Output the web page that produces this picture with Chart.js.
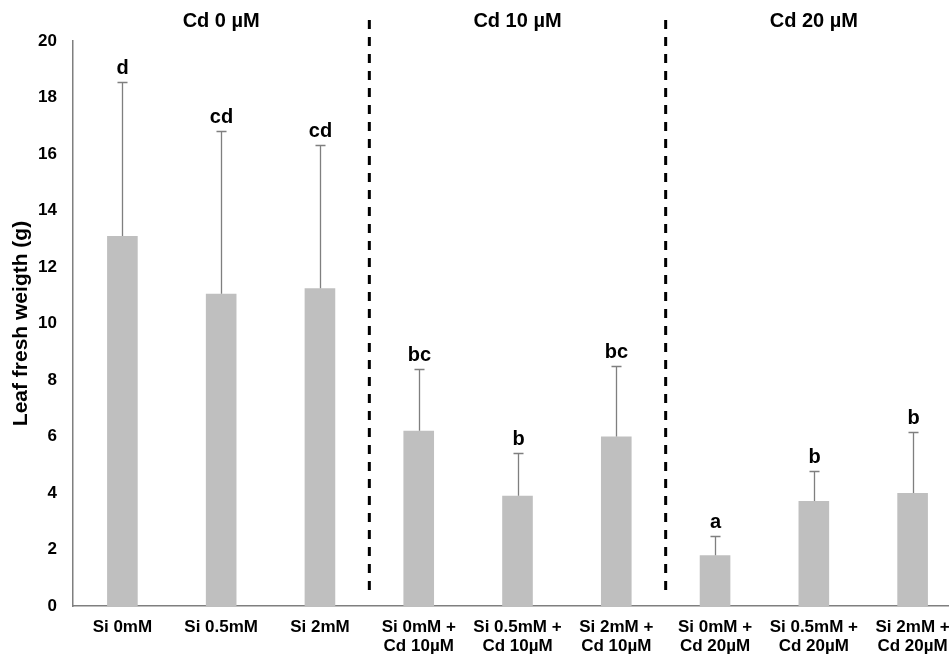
<!DOCTYPE html>
<html>
<head>
<meta charset="utf-8">
<script src="https://cdn.jsdelivr.net/npm/chart.js@4"></script>
<style>
    html, body { margin: 0; padding: 0; background: #fff; overflow: hidden; }
    #wrap { width: 962px; height: 657px; }
</style>
</head>
<body>
<div id="wrap"><canvas id="chart" width="962" height="657"></canvas></div>
<script>
    'use strict';

    var labels = [
        'Si 0mM', 'Si 0.5mM', 'Si 2mM',
        ['Si 0mM +', 'Cd 10µM'], ['Si 0.5mM +', 'Cd 10µM'], ['Si 2mM +', 'Cd 10µM'],
        ['Si 0mM +', 'Cd 20µM'], ['Si 0.5mM +', 'Cd 20µM'], ['Si 2mM +', 'Cd 20µM']
    ];
    var means = [13.1, 11.05, 11.25, 6.2, 3.9, 6.0, 1.8, 3.72, 4.0];
    var errors = [5.45, 5.75, 5.07, 2.2, 1.5, 2.5, 0.67, 1.05, 2.17];
    var letters = ['d', 'cd', 'cd', 'bc', 'b', 'bc', 'a', 'b', 'b'];
    var groupTitles = ['Cd 0 µM', 'Cd 10 µM', 'Cd 20 µM'];
    var groupSize = 3;

    var extras = {
        id: 'extras',
        afterDatasetsDraw: function(chart) {
            var ctx = chart.ctx;
            var x = chart.scales.x;
            var y = chart.scales.y;
            var area = chart.chartArea;

            ctx.save();

            // error bars (upper only) + letters
            means.forEach(function(m, i) {
                var cx = Math.round(x.getPixelForValue(i)) + 0.5;
                var yTop = y.getPixelForValue(m);
                var yErr = Math.round(y.getPixelForValue(m + errors[i])) + 0.5;
                ctx.strokeStyle = '#7f7f7f';
                ctx.lineWidth = 1.3;
                ctx.beginPath();
                ctx.moveTo(cx, yTop);
                ctx.lineTo(cx, yErr);
                ctx.moveTo(cx - 5, yErr);
                ctx.lineTo(cx + 5, yErr);
                ctx.stroke();

                ctx.fillStyle = '#000';
                ctx.font = 'bold 20px "Liberation Sans", Arial, sans-serif';
                ctx.textAlign = 'center';
                ctx.textBaseline = 'alphabetic';
                ctx.fillText(letters[i], cx, yErr - 9);
            });

            // dashed separators between groups
            ctx.strokeStyle = '#000';
            ctx.lineWidth = 3;
            ctx.setLineDash([9, 8]);
            for (var g = 1; g < groupTitles.length; g++) {
                var sx = x.getPixelForValue(g * groupSize - 0.5);
                ctx.beginPath();
                ctx.moveTo(sx, 20);
                ctx.lineTo(sx, area.bottom - 14);
                ctx.stroke();
            }
            ctx.setLineDash([]);

            // group titles
            ctx.font = 'bold 20px "Liberation Sans", Arial, sans-serif';
            ctx.textAlign = 'center';
            ctx.textBaseline = 'middle';
            groupTitles.forEach(function(t, g) {
                var gx = x.getPixelForValue(g * groupSize + (groupSize - 1) / 2);
                ctx.fillText(t, gx, 21);
            });

            ctx.restore();
        }
    };

    new Chart(document.getElementById('chart').getContext('2d'), {
        type: 'bar',
        data: {
            labels: labels,
            datasets: [{
                data: means,
                backgroundColor: '#bfbfbf',
                borderWidth: 0,
                barPercentage: 0.31,
                categoryPercentage: 1
            }]
        },
        options: {
            responsive: false,
            animation: false,
            events: [],
            layout: { padding: { top: 41, right: 0, bottom: 0, left: 0 } },
            plugins: {
                legend: { display: false },
                tooltip: { enabled: false }
            },
            scales: {
                x: {
                    grid: { display: false, drawTicks: false },
                    border: { color: '#7f7f7f', width: 1.5 },
                    ticks: {
                        color: '#000',
                        padding: 12,
                        maxRotation: 0,
                        autoSkip: false,
                        font: { family: '"Liberation Sans", Arial, sans-serif', size: 17, weight: 'bold', lineHeight: 1.1 }
                    },
                    afterFit: function(s) { s.height = 51; }
                },
                y: {
                    min: 0,
                    max: 20,
                    grid: { display: false, drawTicks: false },
                    border: { color: '#7f7f7f', width: 1.5 },
                    ticks: {
                        stepSize: 2,
                        color: '#000',
                        padding: 16,
                        font: { family: '"Liberation Sans", Arial, sans-serif', size: 17, weight: 'bold' }
                    },
                    title: {
                        display: true,
                        text: 'Leaf fresh weigth (g)',
                        color: '#000',
                        padding: { top: 9, bottom: 0 },
                        font: { family: '"Liberation Sans", Arial, sans-serif', size: 21, weight: 'bold' }
                    },
                    afterFit: function(s) { s.width = 73; }
                }
            }
        },
        plugins: [extras]
    });
</script>
</body>
</html>
